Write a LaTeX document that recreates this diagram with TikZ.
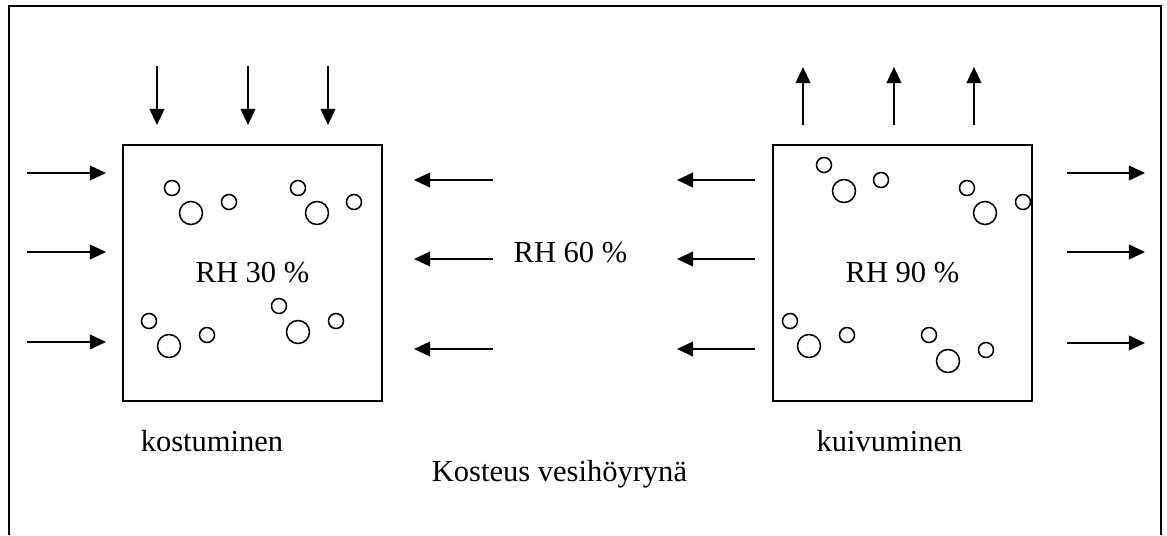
\documentclass[tikz,border=0pt]{standalone}
\usepackage{fontspec}
\setmainfont{Liberation Serif}
\usetikzlibrary{arrows.meta,positioning}

\begin{document}
\begin{tikzpicture}[x=0.025cm, y=-0.025cm,
    lbl/.style={inner sep=0pt, anchor=base, font=\fontsize{21.7}{26}\selectfont},
    sample/.style={draw, line width=1.4pt, rectangle, inner sep=0pt,
                   minimum width=6.475cm, minimum height=6.4cm},
    flow/.style={-{Triangle[length=11.5pt,width=10.5pt]}, line width=1.35pt},
    pore/.style={line width=1.1pt}]
  \useasboundingbox (0,0) rectangle (1167,535);

  % open frame
  \draw[line width=1.4pt] (9,535) -- (9,6) -- (1161,6) -- (1161,535);

  % the two samples
  \node[sample] (wet) at (252.5,273) {};
  \node[sample] (dry) at (902.5,273) {};
  \node[lbl] (wetrh) at (252.5,282) {RH 30 \%};
  \node[lbl] (dryrh) at (902.5,282) {RH 90 \%};
  \node[lbl] (airrh) at (570.5,262) {RH 60 \%};
  \node[lbl] (wetlab) at (212,451) {kostuminen};
  \node[lbl] (drylab) at (889.5,451) {kuivuminen};
  \node[lbl] (title) at (559.5,481) {Kosteus vesihöyrynä};

  % pores
  \foreach \px/\py in {172/188,229/202,298/188,354/202,149/321,207/335,279/306,336/321,
                       824/165,881/180,967/188,1023/202,790/321,847/335,929/335,986/350}
    \draw[pore] (\px,\py) circle (7.5);
  \foreach \px/\py in {191/213,317/213,169/346,298/332,844/191,985/213,809/346,948/361}
    \draw[pore] (\px,\py) circle (11.5);

  % vapour into the wetting sample
  \foreach \ax [count=\i] in {157,248,328} {
    \coordinate (wt\i) at (\ax,66);
    \coordinate (wb\i) at (\ax,125);
    \draw[flow] (wt\i) -- (wb\i);
  }
  \foreach \ay [count=\i] in {173,252,342} {
    \coordinate (wl\i) at (27,\ay);
    \coordinate (wr\i) at (106,\ay);
    \draw[flow] (wl\i) -- (wr\i);
  }

  % vapour out of the drying sample
  \foreach \ax [count=\i] in {803,894,974} {
    \coordinate (db\i) at (\ax,125);
    \coordinate (dt\i) at (\ax,67);
    \draw[flow] (db\i) -- (dt\i);
  }
  \foreach \ay [count=\i] in {173,252,343} {
    \coordinate (dl\i) at (1067,\ay);
    \coordinate (dr\i) at (1145,\ay);
    \draw[flow] (dl\i) -- (dr\i);
  }

  % ambient air between the samples
  \foreach \ay [count=\i] in {180,259,349} {
    \coordinate (ma\i) at (493,\ay);
    \coordinate (mb\i) at (414,\ay);
    \coordinate (mc\i) at (755,\ay);
    \coordinate (md\i) at (677,\ay);
    \draw[flow] (ma\i) -- (mb\i);
    \draw[flow] (mc\i) -- (md\i);
  }
\end{tikzpicture}
\end{document}
